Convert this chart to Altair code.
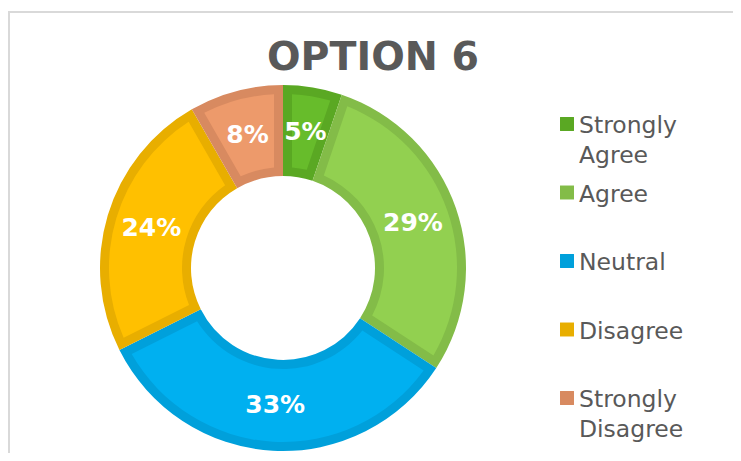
import altair as alt
import pandas as pd

# ---- data ----
categories = ["Strongly Agree", "Agree", "Neutral", "Disagree", "Strongly Disagree"]
values = [5.2, 29.0, 33.4, 24.1, 8.3]          # percent shares (labels show rounded values)
title_text = ["OPTION 6"]

# ---- styles ----
light_colors = ["#67BC2B", "#92D050", "#00B0F0", "#FFC000", "#ED9A6B"]
dark_colors = ["#5AA823", "#83BC48", "#00A0DB", "#E8AE00", "#D88A60"]
FONT = "DejaVu Sans"
GREY = "#595959"

df = pd.DataFrame({"category": categories, "value": values,
                   "idx": list(range(len(categories)))})

W, H = 725, 445
CX, CY = 275, 260
R_OUT, R_IN, BORDER = 183, 92, 9

theta = alt.Theta("value:Q", stack=True)
order = alt.Order("idx:Q")
base = alt.Chart(df).transform_calculate(pct="datum.value / 100")

dark_scale = alt.Scale(domain=categories, range=dark_colors)
light_scale = alt.Scale(domain=categories, range=light_colors)

# darker outline ring
dark = base.mark_arc(outerRadius=R_OUT, innerRadius=R_IN).encode(
    theta=theta, order=order,
    color=alt.Color("category:N", scale=dark_scale, legend=None),
    x=alt.value(CX), y=alt.value(CY),
)

# lighter inner fill, inset by the border width
pad_r = ((R_OUT - BORDER) ** 2 + (R_IN + BORDER) ** 2) ** 0.5
light = base.mark_arc(outerRadius=R_OUT - BORDER, innerRadius=R_IN + BORDER,
                      padAngle=2 * BORDER / pad_r).encode(
    theta=theta, order=order,
    color=alt.Color("category:N", scale=light_scale, legend=None),
    x=alt.value(CX), y=alt.value(CY),
)

labels = base.mark_text(radius=(R_OUT + R_IN) / 2, font=FONT, fontSize=25,
                        fontWeight="bold", color="white").encode(
    theta=theta, order=order,
    text=alt.Text("pct:Q", format=".0%"),
    x=alt.value(CX), y=alt.value(CY),
)

# legend (drawn manually to allow wrapped labels)
leg_y = alt.Y("category:N", scale=alt.Scale(type="point", domain=categories,
                                            range=[116, 390], padding=0), axis=None)
leg_sq = alt.Chart(df).mark_square(size=195, opacity=1).encode(
    y=leg_y, x=alt.value(559),
    color=alt.Color("category:N", scale=dark_scale, legend=None),
)
leg_txt = alt.Chart(df).mark_text(align="left", baseline="alphabetic", lineBreak=" ",
                                  lineHeight=30, font=FONT, fontSize=23.5,
                                  color=GREY, dy=9).encode(
    y=leg_y, x=alt.value(571), text="category:N",
)

title = alt.Chart(pd.DataFrame({"t": title_text})).mark_text(
    font=FONT, fontSize=39.5, fontWeight="bold", color=GREY,
    align="center", baseline="alphabetic").encode(
    text="t:N", x=alt.value(365), y=alt.value(62))

frame_df = pd.DataFrame({"a": [0]})
frame_top = alt.Chart(frame_df).mark_rule(color="#D9D9D9", strokeWidth=2).encode(
    x=alt.value(0), x2=alt.value(W), y=alt.value(4))
frame_left = alt.Chart(frame_df).mark_rule(color="#D9D9D9", strokeWidth=2).encode(
    x=alt.value(1), y=alt.value(4), y2=alt.value(H))

chart = alt.layer(frame_top, frame_left, dark, light, labels, leg_sq, leg_txt, title
).resolve_scale(color="independent").properties(
    width=W, height=H, padding=0,
    autosize=alt.AutoSizeParams(type="none"),
    background="white",
).configure_view(stroke=None)

chart.save("out.html", embed_options={"renderer": "svg", "actions": False})
